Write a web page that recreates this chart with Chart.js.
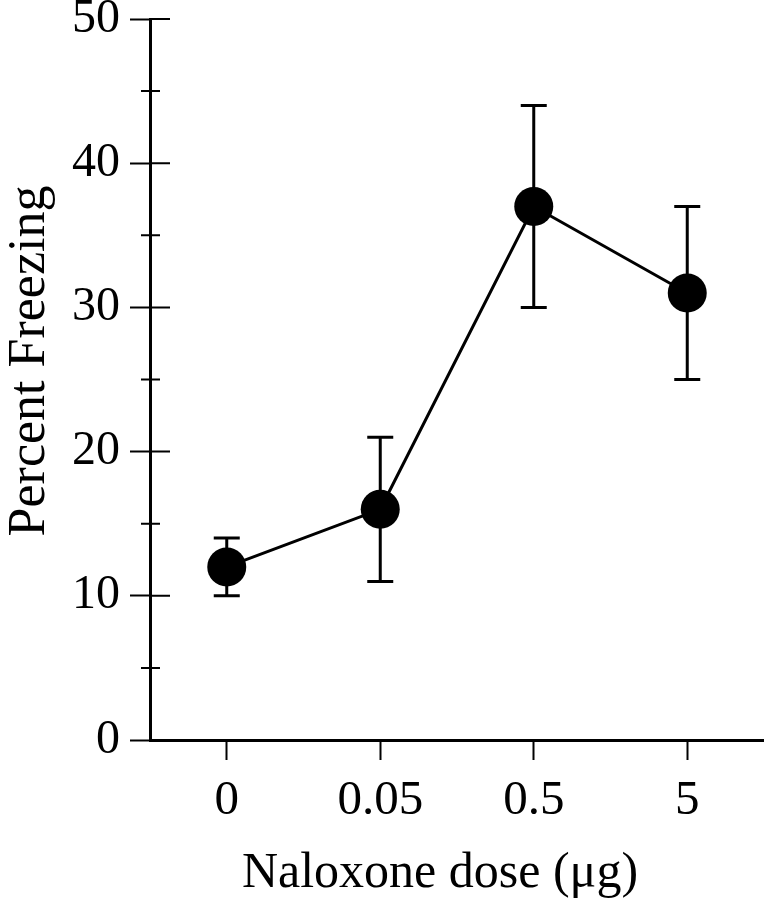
<!DOCTYPE html>
<html lang="en">
<head>
    <meta charset="UTF-8">
    <title>Percent Freezing vs Naloxone dose</title>
    <script src="https://cdn.jsdelivr.net/npm/chart.js"></script>
    <style>
        html, body { margin: 0; padding: 0; background: #fff; }
        #wrap { width: 764px; height: 899px; }
    </style>
</head>
<body>
    <div id="wrap"><canvas id="freezingChart" width="764" height="899"></canvas></div>

    <script>
        // data
        var doses = ['0', '0.05', '0.5', '5'];
        var freezing = [12, 16, 37, 31];
        var errLow = [10, 11, 30, 25];
        var errHigh = [14, 21, 44, 37];
        var yTicks = [0, 10, 20, 30, 40, 50];
        var yMinorTicks = [5, 15, 25, 35, 45];

        var serif = "'Liberation Serif', 'Times New Roman', serif";

        // error bars, inner tick halves, minor ticks and axis titles
        var extras = {
            id: 'extras',
            beforeDatasetsDraw: function(chart) {
                var ctx = chart.ctx;
                var x = chart.scales.x, y = chart.scales.y;
                ctx.save();
                ctx.strokeStyle = '#000';
                ctx.lineWidth = 3;
                for (var i = 0; i < freezing.length; i++) {
                    var px = x.getPixelForValue(i);
                    var lo = y.getPixelForValue(errLow[i]);
                    var hi = y.getPixelForValue(errHigh[i]);
                    ctx.beginPath();
                    ctx.moveTo(px, lo); ctx.lineTo(px, hi);
                    ctx.moveTo(px - 13, lo); ctx.lineTo(px + 13, lo);
                    ctx.moveTo(px - 13, hi); ctx.lineTo(px + 13, hi);
                    ctx.stroke();
                }
                ctx.restore();
            },
            afterDraw: function(chart) {
                var ctx = chart.ctx;
                var y = chart.scales.y;
                var ax = chart.chartArea.left;
                ctx.save();
                ctx.strokeStyle = '#000';
                ctx.lineWidth = 2;
                ctx.beginPath();
                yTicks.forEach(function(v) {
                    if (v === 0) return;
                    var py = y.getPixelForValue(v);
                    ctx.moveTo(ax, py); ctx.lineTo(ax + 20, py);
                });
                yMinorTicks.forEach(function(v) {
                    var py = y.getPixelForValue(v);
                    ctx.moveTo(ax - 9, py); ctx.lineTo(ax + 10, py);
                });
                ctx.stroke();

                ctx.fillStyle = '#000';
                ctx.textAlign = 'center';
                ctx.textBaseline = 'alphabetic';
                ctx.font = '50px ' + serif;
                ctx.fillText('Naloxone dose (\u03bcg)', 440, 887);

                ctx.font = '52px ' + serif;
                ctx.translate(44, 361);
                ctx.rotate(-Math.PI / 2);
                ctx.fillText('Percent Freezing', 0, 0);
                ctx.restore();
            }
        };

        var ctx = document.getElementById('freezingChart').getContext('2d');
        new Chart(ctx, {
            type: 'line',
            data: {
                labels: doses,
                datasets: [{
                    data: freezing,
                    borderColor: '#000',
                    borderWidth: 3,
                    backgroundColor: '#000',
                    pointRadius: 19.5,
                    pointHoverRadius: 19.5,
                    pointBackgroundColor: '#000',
                    pointBorderWidth: 0,
                    tension: 0,
                    fill: false,
                    clip: false
                }]
            },
            options: {
                responsive: false,
                animation: false,
                events: [],
                layout: { autoPadding: false, padding: { top: 19, right: 0, bottom: 0, left: 0 } },
                plugins: {
                    legend: { display: false },
                    tooltip: { enabled: false }
                },
                scales: {
                    x: {
                        type: 'category',
                        offset: true,
                        border: { display: true, color: '#000', width: 3 },
                        grid: {
                            display: true,
                            drawOnChartArea: false,
                            tickLength: 20,
                            tickWidth: 2,
                            tickColor: '#000'
                        },
                        ticks: {
                            color: '#000',
                            font: { family: serif, size: 49 },
                            padding: 12,
                            maxRotation: 0
                        },
                        afterFit: function(scale) {
                            scale.height = 159;
                            scale.paddingLeft = 0;
                            scale.paddingRight = 0;
                        }
                    },
                    y: {
                        min: 0,
                        max: 50,
                        border: { display: true, color: '#000', width: 3 },
                        grid: {
                            display: true,
                            drawOnChartArea: false,
                            tickLength: 20,
                            tickWidth: 2,
                            tickColor: '#000'
                        },
                        ticks: {
                            color: '#000',
                            stepSize: 10,
                            font: { family: serif, size: 48 },
                            padding: 10
                        },
                        afterFit: function(scale) {
                            scale.width = 150;
                            scale.paddingTop = 0;
                            scale.paddingBottom = 0;
                        }
                    }
                }
            },
            plugins: [extras]
        });
    </script>
</body>
</html>
